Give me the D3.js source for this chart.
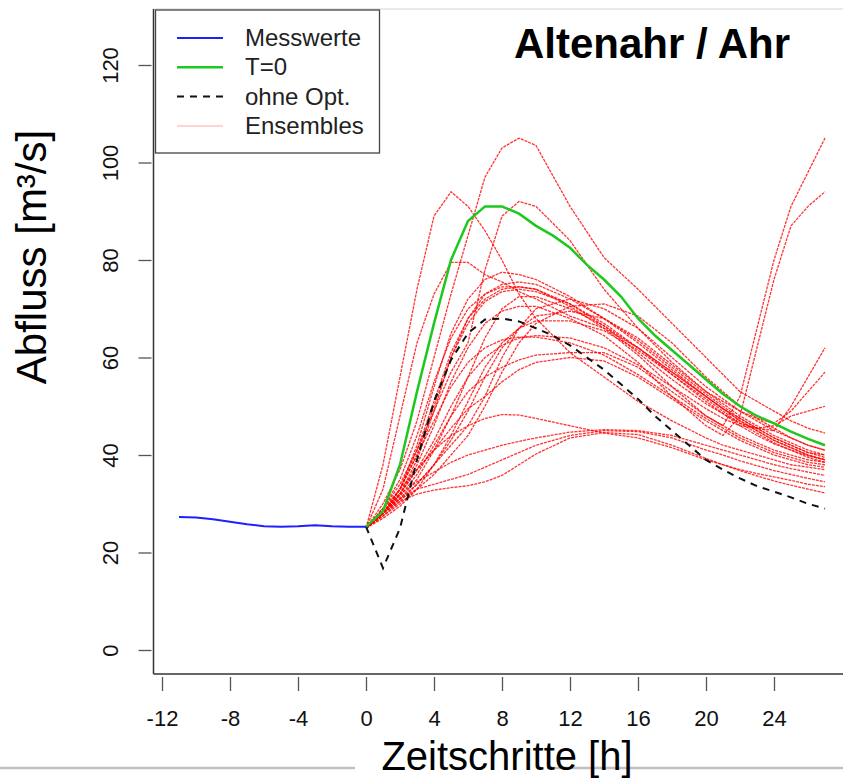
<!DOCTYPE html>
<html>
<head>
<meta charset="utf-8">
<script src="https://cdn.jsdelivr.net/npm/d3@7"></script>
<style>
  body { margin: 0; background: #fff; }
  svg { display: block; font-family: "Liberation Sans", Arial, sans-serif; }
</style>
</head>
<body>
<div id="chart"></div>
<script>
// observed discharge (Messwerte), hours -11..0
const obsHours = [-11, -10, -9, -8, -7, -6, -5, -4, -3, -2, -1, 0];
const obsValues = [27.3, 27.2, 26.8, 26.3, 25.8, 25.4, 25.3, 25.4, 25.6, 25.4, 25.3, 25.3];

// forecast hours 0..27 for T=0 and ohne Opt.
const fcHours = d3.range(0, 28);
const t0Values = [25.3, 28.5, 38, 53, 67, 80, 88, 91, 91, 89.5, 87, 85, 82.5, 79, 76, 72.5,
  68, 64.5, 61.5, 58.5, 55.5, 52.5, 50, 48, 46.5, 44.8, 43.3, 42];
const noOptValues = [25.3, 16.8, 25, 39, 51, 59.5, 65, 67.8, 68, 67.4, 66, 64.5, 62.5, 60, 57.5, 54.5,
  51.5, 48, 45, 42, 39, 37, 35.2, 33.6, 32.5, 31.3, 30, 29];

// ensemble members
const ensHours = [0, 1, 2, 3, 4, 5, 6, 7, 8, 9, 10, 12, 14, 16, 18, 20, 21, 22, 23, 24, 25, 26, 27];
const ensembles = [
  [25, 30, 37, 47, 60, 73, 85, 97, 103, 105, 103.5, 91, 80.5, 74, 67, 60, 56.5, 53, 51, 49, 47, 45.5, 44.5],
  [25, 38, 56, 74, 89, 94, 91, 86, 80, 73, 68, 61, 56, 51, 47, 43.5, 42, 41, 40, 39, 38, 37.5, 37],
  [25, 29, 34, 41, 49, 57, 63, 78, 89, 92, 91, 84, 74, 66, 59, 53, 50.5, 48, 46, 44, 42.5, 41, 40],
  [25, 33, 48, 63, 73, 79.5, 79.5, 77, 75.5, 73.5, 72, 68.5, 66, 62, 57, 52, 49.5, 47, 45, 43, 41.5, 40, 39],
  [25, 28, 33, 42, 54, 65, 72, 76, 77.5, 77, 76, 72.5, 68, 63, 57.5, 52, 49.5, 47, 45, 43, 41.5, 40, 39],
  [25, 28, 32, 39, 49, 60, 68, 73, 75, 75.5, 75, 72, 68, 63.5, 58, 52.5, 50, 47.5, 45.5, 43.5, 42, 40.5, 39.5],
  [25, 28, 31, 35, 41, 48, 56, 64, 70, 72.5, 72.5, 70, 66.5, 62, 57, 52, 49.5, 47.5, 45.5, 43.5, 42, 40.5, 40],
  [25, 28, 31, 34, 38, 42, 46, 52, 60, 66, 70, 72, 70, 66, 60, 54, 51.5, 49, 47, 45, 43.5, 42, 41],
  [25, 27.5, 30, 33, 36, 40, 44, 50, 57, 63, 67, 70.5, 71, 68.5, 63, 56, 53, 50, 47.5, 45.5, 43.5, 42, 41],
  [25, 28, 33, 40, 47, 54, 59, 62, 63.6, 64.2, 64.2, 63, 60.5, 56.5, 52, 47.5, 45.5, 43.5, 42, 40.5, 39.5, 38.5, 38],
  [25, 28, 32, 37, 41, 45.5, 49.5, 52, 55, 57.5, 59, 60, 59.3, 56, 51.5, 47, 45, 43, 41.5, 40, 39, 38, 37.5],
  [25, 28, 31.5, 36, 42, 48, 53, 56, 58, 59.5, 60.5, 61, 61, 58, 53, 48, 46, 44, 42.5, 41, 40, 39, 38.5],
  [25, 28, 33, 40, 50, 60, 67, 71.5, 73.5, 74, 73.5, 71, 67, 62, 56.5, 51, 48.5, 46, 44, 42.3, 41, 39.8, 39],
  [25, 27, 29.5, 33, 38, 44, 51, 58, 63, 66, 67.5, 67.5, 65.5, 61.5, 56.5, 51.5, 49, 46.5, 44.5, 42.5, 41, 39.5, 38.5],
  [25, 29, 33, 37, 41, 44, 46, 47.5, 48.3, 48.2, 47.5, 46, 44.5, 43.5, 41.5, 39, 38, 37, 36.2, 35.5, 34.8, 34, 33.5],
  [25, 28, 30.5, 32, 32.8, 33.3, 33.7, 34.5, 35.8, 38, 40.2, 43.5, 44.6, 44.2, 42, 39.3, 38, 36.8, 35.7, 34.7, 33.8, 33, 32.2],
  [25, 28.5, 31, 33, 34, 35, 36, 37.5, 39, 40.5, 42, 44, 45, 44.8, 43.5, 41, 40, 38.8, 37.8, 36.8, 36, 35.2, 34.5],
  [25, 29, 32, 34.5, 36.5, 38.5, 40, 41, 42, 42.8, 43.5, 44.7, 45.2, 45, 44, 42, 41, 40, 39, 38, 37.2, 36.5, 35.8],
  [25, 29, 35, 44, 55, 64, 70, 73, 74.5, 74.5, 74, 70.5, 66, 60.5, 54, 48, 46, 52, 66, 80, 91, 98, 105],
  [25, 28, 32, 38, 46, 55, 62, 67, 69.5, 70.5, 70.5, 68, 64.5, 59, 52, 46, 44, 48, 62, 76, 87, 91, 94],
  [25, 28, 33, 41, 51, 61, 68, 72, 74, 74.5, 74, 71, 66.5, 61, 55.5, 50.5, 48.5, 46.5, 45.5, 45, 50, 56, 62],
  [25, 27.5, 30.5, 34, 38, 43, 49, 56, 62, 66, 68.5, 69.5, 68, 64, 58.5, 53, 51, 49, 47.5, 46.5, 49, 53, 57],
  [25, 28, 32, 37, 43, 50, 56, 60, 62.5, 64, 64.5, 64, 62, 58.5, 54, 49.5, 47.5, 46, 45.5, 46, 48, 49, 50]
];

// axes
const xTicks = [-12, -8, -4, 0, 4, 8, 12, 16, 20, 24];
const yTicks = [0, 20, 40, 60, 80, 100, 120];

// legend
const legendLabels = ["Messwerte", "T=0", "ohne Opt.", "Ensembles"];

function drawChart() {
  const w = 843;
  const h = 781;

  const svg = d3.select("#chart")
    .append("svg")
    .attr("width", w)
    .attr("height", h);

  svg.append("rect").attr("width", w).attr("height", h).attr("fill", "#fff");

  // scales
  const xScale = d3.scaleLinear().domain([-12.5, 28]).range([153.5, 842]);
  const yScale = d3.scaleLinear().domain([0, 120]).range([650, 65]);

  const boxLeft = xScale(-12.5);
  const boxTop = 9;
  const boxBottom = 674;

  // plot frame
  svg.append("line")
    .attr("x1", boxLeft).attr("x2", w + 5)
    .attr("y1", boxTop).attr("y2", boxTop)
    .attr("stroke", "#e2e2e2").attr("stroke-width", 1.5);
  svg.append("line")
    .attr("x1", boxLeft).attr("x2", boxLeft)
    .attr("y1", boxTop).attr("y2", boxBottom)
    .attr("stroke", "#333").attr("stroke-width", 1.5);
  svg.append("line")
    .attr("x1", boxLeft).attr("x2", w + 5)
    .attr("y1", boxBottom).attr("y2", boxBottom)
    .attr("stroke", "#333").attr("stroke-width", 1.5);

  // X axis (ticks hanging below the frame)
  const xAxis = d3.axisBottom(xScale)
    .tickValues(xTicks)
    .tickSize(14)
    .tickPadding(20)
    .tickFormat(d => String(d));
  const gx = svg.append("g")
    .attr("transform", `translate(0, ${boxBottom + 3})`)
    .call(xAxis);
  gx.select(".domain").remove();
  gx.selectAll(".tick line").attr("stroke", "#555").attr("stroke-width", 1.3);
  gx.selectAll(".tick text")
    .attr("font-size", 22)
    .attr("font-family", "Liberation Sans, Arial, sans-serif")
    .attr("fill", "#111")
    .attr("dy", "0.7em");

  // Y axis (rotated labels)
  const yAxis = d3.axisLeft(yScale)
    .tickValues(yTicks)
    .tickSize(13)
    .tickFormat(d => String(d));
  const gy = svg.append("g")
    .attr("transform", `translate(${boxLeft - 2}, 0)`)
    .call(yAxis);
  gy.select(".domain").remove();
  gy.selectAll(".tick line").attr("stroke", "#555").attr("stroke-width", 1.3);
  gy.selectAll(".tick text")
    .attr("font-size", 22)
    .attr("font-family", "Liberation Sans, Arial, sans-serif")
    .attr("fill", "#111")
    .attr("text-anchor", "middle")
    .attr("x", null).attr("dy", null)
    .attr("transform", "translate(-34, 0) rotate(-90)");

  // line generators
  const line = d3.line()
    .x(d => xScale(d[0]))
    .y(d => yScale(d[1]));

  // ensembles
  svg.append("g")
    .selectAll("path")
    .data(ensembles)
    .join("path")
    .attr("d", vals => line(ensHours.map((t, i) => [t, vals[i]])))
    .attr("fill", "none")
    .attr("stroke", "#ff0000")
    .attr("stroke-opacity", 0.8)
    .attr("stroke-width", 1.3)
    .attr("stroke-dasharray", "3,1");

  // ohne Opt.
  svg.append("path")
    .attr("d", line(fcHours.map((t, i) => [t, noOptValues[i]])))
    .attr("fill", "none")
    .attr("stroke", "#111")
    .attr("stroke-width", 2)
    .attr("stroke-dasharray", "7,6");

  // T=0
  svg.append("path")
    .attr("d", line(fcHours.map((t, i) => [t, t0Values[i]])))
    .attr("fill", "none")
    .attr("stroke", "#1ec81e")
    .attr("stroke-width", 2.5);

  // Messwerte
  svg.append("path")
    .attr("d", line(obsHours.map((t, i) => [t, obsValues[i]])))
    .attr("fill", "none")
    .attr("stroke", "#2020ff")
    .attr("stroke-width", 2);

  // legend
  const legend = svg.append("g");
  legend.append("rect")
    .attr("x", boxLeft + 2).attr("y", boxTop + 1)
    .attr("width", 224).attr("height", 143)
    .attr("fill", "#fff")
    .attr("stroke", "#444").attr("stroke-width", 1.3);
  const legendStyles = [
    { color: "#2020ff", width: 2, dash: null },
    { color: "#1ec81e", width: 2.5, dash: null },
    { color: "#111", width: 2, dash: "7,6" },
    { color: "#ffc4c4", width: 1.5, dash: null }
  ];
  legendLabels.forEach((lab, i) => {
    const yy = 38 + i * 29.3;
    legend.append("line")
      .attr("x1", 177).attr("x2", 223)
      .attr("y1", yy).attr("y2", yy)
      .attr("stroke", legendStyles[i].color)
      .attr("stroke-width", legendStyles[i].width)
      .attr("stroke-dasharray", legendStyles[i].dash);
    legend.append("text")
      .attr("x", 245).attr("y", yy + 8)
      .attr("font-size", 24)
      .attr("fill", "#222")
      .text(lab);
  });

  // title
  svg.append("text")
    .attr("x", 652).attr("y", 58)
    .attr("text-anchor", "middle")
    .attr("font-size", 42)
    .attr("font-weight", "bold")
    .attr("fill", "#000")
    .text("Altenahr / Ahr");

  // axis titles
  svg.append("text")
    .attr("transform", "translate(46, 257) rotate(-90)")
    .attr("text-anchor", "middle")
    .attr("font-size", 42)
    .attr("fill", "#000")
    .text("Abfluss [m³/s]");

  // grey rule at the bottom, partly hidden by the x title
  svg.append("line")
    .attr("x1", 0).attr("x2", 355)
    .attr("y1", 768).attr("y2", 768)
    .attr("stroke", "#c0c0c0").attr("stroke-width", 2.5);
  svg.append("line")
    .attr("x1", 547).attr("x2", w)
    .attr("y1", 768).attr("y2", 768)
    .attr("stroke", "#c0c0c0").attr("stroke-width", 2.5);

  svg.append("text")
    .attr("x", 507).attr("y", 770)
    .attr("text-anchor", "middle")
    .attr("font-size", 40)
    .attr("fill", "#000")
    .text("Zeitschritte [h]");
}

document.addEventListener("DOMContentLoaded", () => {
  drawChart();
});
</script>
</body>
</html>
